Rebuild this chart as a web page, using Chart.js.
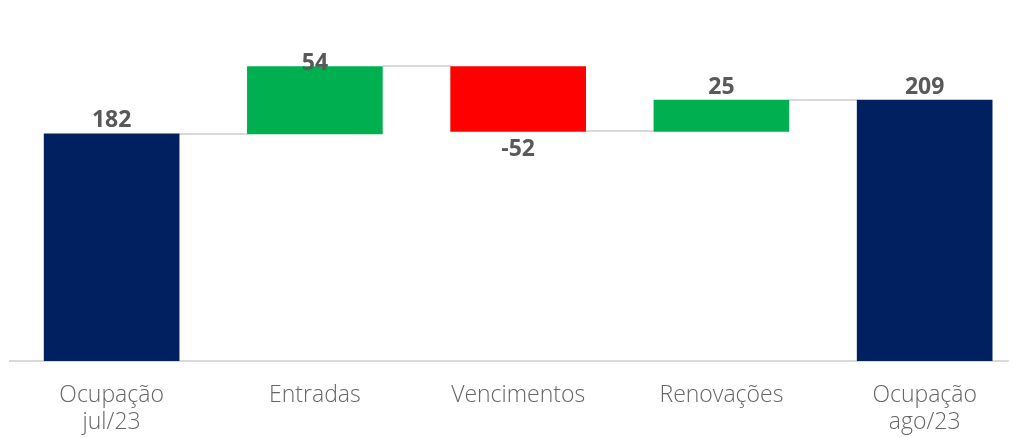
<!DOCTYPE html>
<html>
<head>
<meta charset="utf-8">
<script src="https://cdn.jsdelivr.net/npm/chart.js@4/dist/chart.umd.min.js"></script>
<style>
  html, body { margin: 0; padding: 0; background: #fff; overflow: hidden; }
  #wrap { width: 1015px; height: 438px; }
</style>
</head>
<body>
<div id="wrap"><canvas id="chart"></canvas></div>
<script>
// waterfall: ocupação jul/23 -> ago/23
const categories = [['Ocupação', 'jul/23'], 'Entradas', 'Vencimentos', 'Renovações', ['Ocupação', 'ago/23']]
const values = [182, 54, -52, 25, 209]
const kinds = ['total', 'delta', 'delta', 'delta', 'total']

const NAVY = '#002060', GREEN = '#00B050', RED = '#FF0000'

// build floating ranges from running total
let running = 0
const ranges = values.map((v, i) => {
    if (kinds[i] === 'total') {
        running = v
        return {x: i, y: [0, v]}
    }
    const start = running
    running += v
    return {x: i, y: [Math.min(start, running), Math.max(start, running)]}
})
const levels = ranges.map((r, i) => kinds[i] === 'total' ? r.y[1] : (values[i] >= 0 ? r.y[1] : r.y[0]))
const colors = values.map((v, i) => kinds[i] === 'total' ? NAVY : (v >= 0 ? GREEN : RED))

const connectors = {
    id: 'connectors',
    beforeDatasetsDraw(chart) {
        const ctx = chart.ctx
        const bars = chart.getDatasetMeta(0).data
        const y = chart.scales.y
        ctx.save()
        ctx.strokeStyle = '#d9d9d9'
        ctx.lineWidth = 2
        for (let i = 0; i < bars.length - 1; i++) {
            const py = Math.round(y.getPixelForValue(levels[i]))
            ctx.beginPath()
            ctx.moveTo(bars[i].x + bars[i].width / 2, py)
            ctx.lineTo(bars[i + 1].x - bars[i + 1].width / 2, py)
            ctx.stroke()
        }
        ctx.restore()
    }
}

const valueLabels = {
    id: 'valueLabels',
    afterDatasetsDraw(chart) {
        const ctx = chart.ctx
        const bars = chart.getDatasetMeta(0).data
        const top = chart.chartArea.top
        ctx.save()
        ctx.font = 'bold 23px "Open Sans"'
        ctx.fillStyle = '#595959'
        ctx.textAlign = 'center'
        ctx.textBaseline = 'middle'
        bars.forEach((bar, i) => {
            const v = values[i]
            let py
            if (v < 0) {
                py = bar.base + 18
            } else {
                py = Math.max(bar.y - 13, top + 14)
            }
            ctx.fillText(String(v), bar.x, py)
        })
        ctx.restore()
    }
}

new Chart(document.getElementById('chart'), {
    type: 'bar',
    data: {
        datasets: [{
            data: ranges,
            backgroundColor: colors,
            borderWidth: 0,
            borderSkipped: false,
            barThickness: 135
        }]
    },
    options: {
        responsive: true,
        maintainAspectRatio: false,
        animation: false,
        layout: {padding: {top: 49, left: 10, right: 7, bottom: 3}},
        plugins: {legend: {display: false}, tooltip: {enabled: false}},
        scales: {
            x: {
                type: 'linear',
                offset: false,
                min: -0.5,
                max: 4.41,
                afterBuildTicks(axis) {
                    axis.ticks = categories.map((c, i) => ({value: i}))
                },
                afterFit(axis) {
                    axis.height = 74
                },
                grid: {display: false, drawTicks: false},
                border: {display: true, color: '#d9d9d9', width: 2},
                ticks: {
                    padding: 21,
                    color: '#666666',
                    font: {family: '"Open Sans"', size: 23, weight: 300, lineHeight: 1.17},
                    maxRotation: 0,
                    autoSkip: false,
                    callback: (v) => categories[v]
                }
            },
            y: {
                display: false,
                min: 0,
                max: 250
            }
        }
    },
    plugins: [connectors, valueLabels]
})
</script>
</body>
</html>
